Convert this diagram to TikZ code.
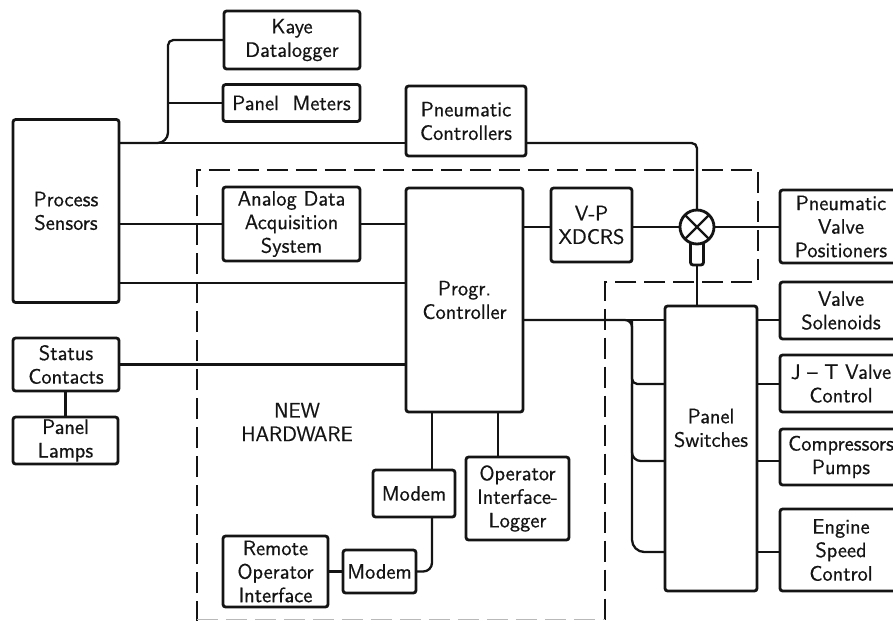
\documentclass[tikz,border=0pt]{standalone}
\usepackage{fontspec}
\usepackage{xcolor}
\usepackage{tikz}
\newfontfamily\unitfont[FakeBold=0.6]{Latin Modern Sans}
\definecolor{inkblack}{HTML}{141414}
\tikzset{
  boxsize/.style 2 args={minimum width=#1*0.02cm,minimum height=#2*0.02cm},
  unit/.style={draw=inkblack,line width=1.6pt,rounded corners=1.5pt,inner sep=0pt,outer sep=0pt,
    align=center,font=\unitfont\fontsize{11.9}{13.4}\selectfont,text=inkblack},
  wire/.style={draw=inkblack,line width=1.3pt,rounded corners=3pt},
  boundary/.style={draw=inkblack,line width=1.4pt,dash pattern=on 0.42cm off 0.16cm},
}
\begin{document}
\begin{tikzpicture}[x=0.02cm,y=-0.02cm]
  \useasboundingbox (0,0) rectangle (893,620);
  \node[unit,boxsize={106}{183}] (sensors) at (66,211) {Process\\Sensors};
  \node[unit,boxsize={136}{58}] (kaye) at (292,40) {Kaye\\Datalogger};
  \node[unit,boxsize={137}{37}] (meters) at (291.5,103) {Panel\ \ Meters};
  \node[unit,boxsize={120}{70}] (ctrl) at (466,121) {Pneumatic\\Controllers};
  \node[unit,boxsize={137}{74}] (analog) at (291.5,224) {Analog Data\\Acquisition\\System};
  \node[unit,boxsize={117}{224}] (progr) at (464.5,300) {Progr.\\Controller};
  \node[unit,boxsize={81}{74}] (vp) at (591.5,225) {V-P\\XDCRS};
  \node[unit,boxsize={122}{73}] (positioners) at (841,226.5) {Pneumatic\\Valve\\Positioners};
  \node[unit,boxsize={122}{57}] (solenoids) at (841,310.5) {Valve\\Solenoids};
  \node[unit,boxsize={122}{57}] (jt) at (841,383.5) {J – T Valve\\Control};
  \node[unit,boxsize={122}{56}] (compressors) at (841,457) {Compressors\\Pumps};
  \node[unit,boxsize={122}{82}] (engine) at (841,550) {Engine\\Speed\\Control};
  \node[unit,boxsize={92}{285}] (switches) at (711,448.5) {};
  \node[unit,draw=none] (switchestext) at (711,428) {Panel\\Switches};
  \node[unit,boxsize={106}{53}] (status) at (66,364.5) {Status\\Contacts};
  \node[unit,boxsize={105}{47}] (lamps) at (65.5,440.5) {Panel\\Lamps};
  \node[unit,boxsize={82}{47}] (modemtop) at (414,493.5) {Modem};
  \node[unit,boxsize={103}{83}] (operator) at (517.5,498.5) {Operator\\Interface-\\Logger};
  \node[unit,boxsize={105}{71}] (remote) at (275.5,571.5) {Remote\\Operator\\Interface};
  \node[unit,boxsize={73}{43}] (modemlow) at (379.5,571.5) {Modem};
  \node[unit,draw=none] (newhw) at (297,422) {NEW\\HARDWARE};
  \node[unit,boxsize={13}{30},fill=white] (mixcap) at (697,250) {};
  \node[draw=inkblack,line width=1.6pt,circle,fill=white,inner sep=0pt,outer sep=0pt,minimum size=0.68cm] (mix) at (697,227) {};
  \draw[wire] (mix.45) -- (mix.225);
  \draw[wire] (mix.135) -- (mix.315);
  \coordinate (sensebus) at (168,143);
  \coordinate (procrow) at (0,283);
  \coordinate (switchbus) at (632,320);
  \coordinate (jtrow) at (0,384);
  \coordinate (comprow) at (0,461);
  \coordinate (enginerow) at (0,552);
  \coordinate (modemtap) at (432,0);
  \coordinate (operatortap) at (498,0);
  \draw[boundary] (197,622) -- (197,170) -- (758,170) -- (758,282) -- (605,282) -- (605,622);
  \draw[boundary,draw=gray!55,line width=0.5pt] (197,619.4) -- (605,619.4);
  \draw[wire] (sensors.east |- sensebus) -- (ctrl.west |- sensebus);
  \draw[wire] (sensors.east |- sensebus) [rounded corners=6pt] -- (sensebus) [rounded corners=3pt] -- (sensebus |- kaye.west) -- (kaye.west);
  \draw[wire] (sensebus |- meters.west) -- (meters.west);
  \draw[wire] (ctrl.east |- sensebus) -- (mix.north |- sensebus) -- (mix.north);
  \draw[wire] (sensors.east |- analog.west) -- (analog.west);
  \draw[wire] (analog.east) -- (analog.east -| progr.west);
  \draw[wire] (sensors.east |- procrow) -- (progr.west |- procrow);
  \draw[wire] (status.east) -- (status.east -| progr.west);
  \draw[wire] (lamps.north |- status.south) -- (lamps.north);
  \draw[wire] (progr.east |- mix) -- (vp.west |- mix);
  \draw[wire] (vp.east |- mix) -- (mix.west);
  \draw[wire] (mix.east) -- (positioners.west |- mix);
  \draw[wire] (mixcap.south) -- (mixcap.south |- switches.north);
  \draw[wire] (progr.east |- switchbus) -- (switches.west |- switchbus);
  \draw[wire] (progr.east |- switchbus) [rounded corners=4pt] -- (switchbus) [rounded corners=7pt] -- (switchbus |- enginerow) -- (switches.west |- enginerow);
  \draw[wire] (switchbus |- switchbus) -- (switchbus |- jtrow) -- (switches.west |- jtrow);
  \draw[wire,rounded corners=5pt] (switchbus |- jtrow) -- (switchbus |- comprow) -- (switches.west |- comprow);
  \foreach \row/\target in {switchbus/solenoids,jtrow/jt,comprow/compressors,enginerow/engine}
    \draw[wire] (switches.east |- \row) -- (\target.west |- \row);
  \draw[wire] (modemtap |- progr.south) -- (modemtap |- modemtop.north);
  \draw[wire,rounded corners=5pt] (modemtap |- modemtop.south) -- (modemtap |- modemlow.east) -- (modemlow.east);
  \draw[wire] (remote.east) -- (modemlow.west);
  \draw[wire] (operatortap |- progr.south) -- (operatortap |- operator.north);
\end{tikzpicture}
\end{document}
